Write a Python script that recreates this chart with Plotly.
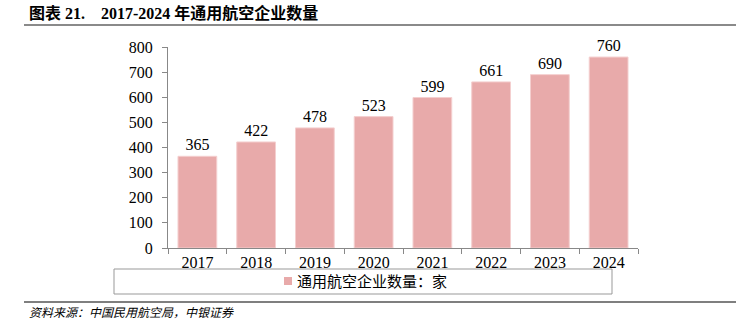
import plotly.graph_objects as go

years = ["2017", "2018", "2019", "2020", "2021", "2022", "2023", "2024"]
counts = [365, 422, 478, 523, 599, 661, 690, 760]
series_name = "通用航空企业数量：家"
title_label = "图表 21."
title_years = "2017-2024"
title_words = "年通用航空企业数量"
source_text = "资料来源：中国民用航空局，中银证券"
y_ticks = [0, 100, 200, 300, 400, 500, 600, 700, 800]

SERIF = "Liberation Serif, Times New Roman, Noto Sans CJK SC, serif"
CJK = "Liberation Serif, Noto Sans CJK SC, sans-serif"
BAR = "#E8AAAA"

title_html = ("<b>" + title_label + "&nbsp;&nbsp;&nbsp;&nbsp;"
              + title_years + " " + title_words + "</b>")

fig = go.Figure()
fig.add_trace(go.Bar(
    x=years, y=counts, name=series_name,
    marker=dict(color=BAR, line=dict(color="#F4CFCF", width=1)),
    text=[str(v) for v in counts], textposition="outside",
    textfont=dict(family=SERIF, size=16, color="#000"),
    cliponaxis=False, showlegend=False,
))

fig.update_layout(
    width=736, height=336,
    margin=dict(l=168, r=98, t=47, b=88),
    paper_bgcolor="white", plot_bgcolor="white",
    bargap=0.34,
    font=dict(family=SERIF, color="#000"),
    xaxis=dict(
        type="category", showline=True, linecolor="#888", linewidth=1,
        ticks="outside", tickson="boundaries", ticklen=5, tickcolor="#888",
        tickfont=dict(family=SERIF, size=16, color="#000"), showgrid=False,
    ),
    yaxis=dict(
        range=[0, 800], tickvals=y_ticks, showline=True, linecolor="#888", linewidth=1,
        ticks="outside", ticklen=5, tickcolor="#888", showgrid=False, zeroline=False,
        tickfont=dict(family=SERIF, size=16, color="#000"), ticklabelstandoff=6,
    ),
    shapes=[
        dict(type="line", xref="paper", yref="paper", x0=(24-168)/470, x1=(736-168)/470,
             y0=(336-88-25)/201, y1=(336-88-25)/201, line=dict(color="#8a8a8a", width=2)),
        dict(type="rect", xref="paper", yref="paper", x0=(114-168)/470, x1=(612-168)/470,
             y0=(248-294)/201, y1=(248-269)/201, line=dict(color="#999", width=1)),
        dict(type="rect", xref="paper", yref="paper", x0=(284-168)/470, x1=(292-168)/470,
             y0=(248-285)/201, y1=(248-277)/201, line=dict(width=0), fillcolor=BAR),
        dict(type="line", xref="paper", yref="paper", x0=(24-168)/470, x1=(736-168)/470,
             y0=(248-302)/201, y1=(248-302)/201, line=dict(color="#555", width=1.5)),
    ],
    annotations=[
        dict(text=title_html, xref="paper", yref="paper",
             x=(27-168)/470, y=(248-13)/201, xanchor="left", yanchor="middle",
             showarrow=False, font=dict(family=CJK, size=16, color="#000")),
        dict(text=series_name, xref="paper", yref="paper",
             x=(295-168)/470, y=(248-281.5)/201, xanchor="left", yanchor="middle",
             showarrow=False, font=dict(family=CJK, size=15, color="#000")),
        dict(text="<i>" + source_text + "</i>", xref="paper", yref="paper",
             x=(27-168)/470, y=(248-313)/201, xanchor="left", yanchor="middle",
             showarrow=False, font=dict(family=CJK, size=12, color="#000")),
    ],
)

fig.write_html("out.html")
